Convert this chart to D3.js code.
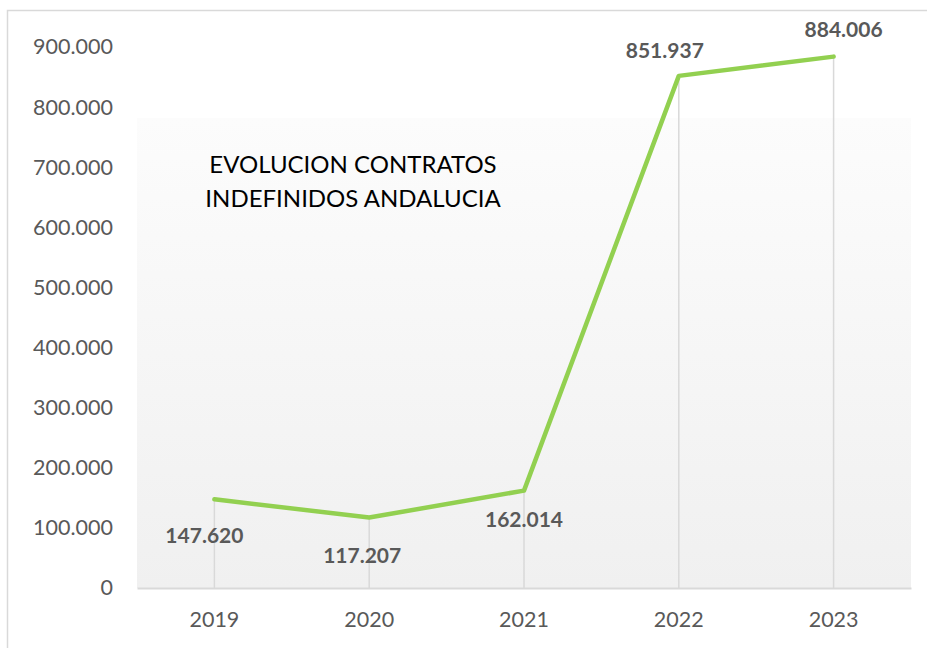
<!DOCTYPE html>
<html>
<head>
<meta charset="utf-8">
<script src="https://cdn.jsdelivr.net/npm/d3@7"></script>
<style>
  body { margin: 0; background: #fff; }
  text { font-family: Lato, "Open Sans", sans-serif; }
</style>
</head>
<body>
<div id="chart"></div>
<script>
// data
let years = ["2019", "2020", "2021", "2022", "2023"];
let contratos = [147620, 117207, 162014, 851937, 884006];
let yTicks = [0, 100000, 200000, 300000, 400000, 500000, 600000, 700000, 800000, 900000];
let titleLines = ["EVOLUCION CONTRATOS", "INDEFINIDOS ANDALUCIA"];
// where each data label sits relative to its point [dx, dy]
let labelOffsets = [[-10, 44], [-7, 45], [0, 36], [-14, -18], [10, -20]];

let svgWidth = 927;
let svgHeight = 648;

let margin = { top: 47, right: 16, bottom: 60, left: 137 };
let width = svgWidth - margin.left - margin.right;
let height = 588 - margin.top;

let svg = d3.select("#chart")
    .append("svg")
    .attr("width", svgWidth)
    .attr("height", svgHeight);

// outer frame
svg.append("rect")
    .attr("x", 7.5)
    .attr("y", 10.5)
    .attr("width", svgWidth)
    .attr("height", svgHeight)
    .attr("fill", "none")
    .attr("stroke", "#d9d9d9")
    .attr("stroke-width", 1.5);

let defs = svg.append("defs");
let grad = defs.append("linearGradient")
    .attr("id", "bg")
    .attr("x1", 0).attr("y1", 0)
    .attr("x2", 0).attr("y2", 1);
grad.append("stop").attr("offset", "0%").attr("stop-color", "#fcfcfc");
grad.append("stop").attr("offset", "100%").attr("stop-color", "#f0f0f0");

let chartGroup = svg.append("g")
    .attr("transform", `translate(${margin.left}, ${margin.top})`);

let xScale = d3.scaleBand()
    .domain(years)
    .range([0, width]);

let yScale = d3.scaleLinear()
    .domain([0, 900000])
    .range([height, 0]);

// plot background
chartGroup.append("rect")
    .attr("x", 0)
    .attr("y", 71)
    .attr("width", width)
    .attr("height", height - 71)
    .attr("fill", "url(#bg)");

let fmt = d3.formatLocale({ decimal: ",", thousands: ".", grouping: [3] }).format(",d");

// y axis labels (no line)
let leftAxis = d3.axisLeft(yScale)
    .tickValues(yTicks)
    .tickFormat(fmt)
    .tickSize(0)
    .tickPadding(24);

let yAxis = chartGroup.append("g").call(leftAxis);
yAxis.select(".domain").remove();
yAxis.selectAll("text")
    .attr("fill", "#595959")
    .attr("font-size", 21.5)
    .style("font-family", "Lato, 'Open Sans', sans-serif");

// x axis
let bottomAxis = d3.axisBottom(xScale)
    .tickSize(0)
    .tickPadding(24);

let xAxis = chartGroup.append("g")
    .attr("transform", `translate(0, ${height})`)
    .call(bottomAxis);
xAxis.select(".domain")
    .attr("stroke", "#d9d9d9")
    .attr("stroke-width", 2);
xAxis.selectAll("text")
    .attr("fill", "#595959")
    .attr("font-size", 21.5)
    .style("font-family", "Lato, 'Open Sans', sans-serif");

let cx = d => xScale(d) + xScale.bandwidth() / 2;

// drop lines
chartGroup.selectAll(".drop")
    .data(years)
    .enter()
    .append("line")
    .attr("x1", d => cx(d))
    .attr("x2", d => cx(d))
    .attr("y1", (d, i) => yScale(contratos[i]))
    .attr("y2", height)
    .attr("stroke", "#d9d9d9")
    .attr("stroke-width", 1.5);

// line
let line = d3.line()
    .x((d, i) => cx(years[i]))
    .y(d => yScale(d));

chartGroup.append("path")
    .datum(contratos)
    .attr("d", line)
    .attr("fill", "none")
    .attr("stroke", "#92d050")
    .attr("stroke-width", 4.5)
    .attr("stroke-linejoin", "round")
    .attr("stroke-linecap", "round");

// data labels
chartGroup.selectAll(".lbl")
    .data(contratos)
    .enter()
    .append("text")
    .attr("x", (d, i) => cx(years[i]) + labelOffsets[i][0])
    .attr("y", (d, i) => yScale(d) + labelOffsets[i][1])
    .attr("text-anchor", "middle")
    .attr("font-size", 21)
    .attr("font-weight", "bold")
    .attr("fill", "#595959")
    .text(d => fmt(d));

// title
chartGroup.append("text")
    .attr("x", 353 - margin.left)
    .attr("y", 173 - margin.top)
    .attr("text-anchor", "middle")
    .attr("font-size", 24)
    .attr("fill", "#000")
    .selectAll("tspan")
    .data(titleLines)
    .enter()
    .append("tspan")
    .attr("x", 353 - margin.left)
    .attr("dy", (d, i) => i === 0 ? 0 : 34)
    .text(d => d);
</script>
</body>
</html>
